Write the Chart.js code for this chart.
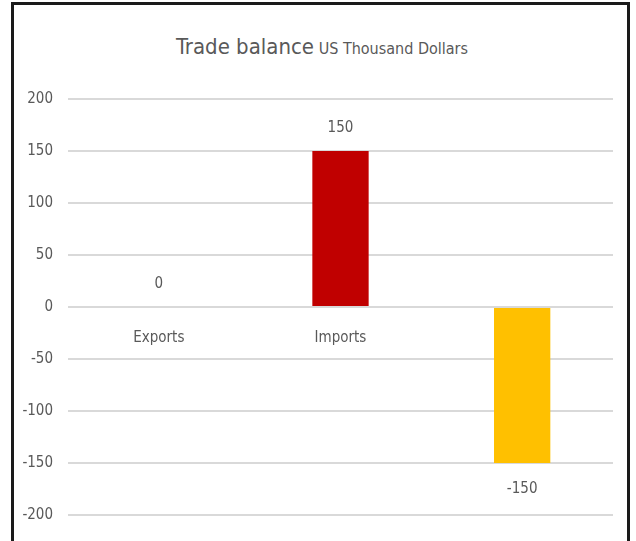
<!DOCTYPE html>
<html>
<head>
<meta charset="utf-8">
<script src="https://cdn.jsdelivr.net/npm/chart.js@4"></script>
<style>
  html, body { margin: 0; padding: 0; background: #fff; overflow: hidden; }
  #frame { position: absolute; left: 11px; top: 2px; width: 613px; height: 600px; border: 3px solid #1a1a1a; }
  #title { position: absolute; left: 0; top: 34px; width: 644px; text-align: center; color: #595959;
           font-family: "Liberation Sans Narrow", "DejaVu Sans Condensed", "Roboto", sans-serif; white-space: nowrap; }
  #title .main { font-size: 22px; }
  #title .sub { font-size: 16px; }
  #wrap { position: absolute; left: 0; top: 0; width: 636px; height: 541px; }
</style>
</head>
<body>
<div id="frame"></div>
<div id="title"><span class="main">Trade balance</span> <span class="sub">US Thousand Dollars</span></div>
<div id="wrap"><canvas id="chart"></canvas></div>
<script>
// Data
const categories = ['Exports', 'Imports', 'balance'];
const values = [0, 150, -150];
const barColors = ['#c00000', '#c00000', '#ffc000'];
const yTicks = [200, 150, 100, 50, 0, -50, -100, -150, -200];

const fontFamily = '"Liberation Sans Narrow", "DejaVu Sans Condensed", "Roboto", sans-serif';
const textColor = '#595959';

// value labels above / below bars
const valueLabels = {
    id: 'valueLabels',
    afterDatasetsDraw(chart) {
        const ctx = chart.ctx;
        const meta = chart.getDatasetMeta(0);
        ctx.save();
        ctx.font = '15px ' + fontFamily;
        ctx.fillStyle = textColor;
        ctx.textAlign = 'center';
        ctx.textBaseline = 'middle';
        meta.data.forEach((bar, i) => {
            const v = values[i];
            const y = v >= 0 ? bar.y - 23 : bar.y + 26;
            ctx.fillText(String(v), bar.x, y);
        });
        ctx.restore();
    }
};

new Chart(document.getElementById('chart'), {
    type: 'bar',
    data: {
        labels: categories,
        datasets: [{
            data: values,
            backgroundColor: barColors,
            barPercentage: 0.31,
            categoryPercentage: 1
        }]
    },
    options: {
        responsive: true,
        maintainAspectRatio: false,
        animation: false,
        layout: { padding: { top: 99, bottom: 26, right: 23, left: 0 } },
        plugins: {
            legend: { display: false },
            tooltip: { enabled: false }
        },
        scales: {
            x: {
                position: { y: 0 },
                grid: { display: false, drawTicks: false },
                border: { display: false },
                ticks: {
                    padding: 22,
                    color: textColor,
                    font: { family: fontFamily, size: 15 }
                }
            },
            y: {
                min: -200,
                max: 200,
                afterBuildTicks: (scale) => { scale.ticks = yTicks.map(v => ({ value: v })); },
                afterFit: (scale) => { scale.width = 68; },
                grid: { color: '#d9d9d9', lineWidth: 2, drawTicks: false },
                border: { display: false },
                ticks: {
                    padding: 15,
                    color: textColor,
                    font: { family: fontFamily, size: 15 }
                }
            }
        }
    },
    plugins: [valueLabels]
});
</script>
</body>
</html>
